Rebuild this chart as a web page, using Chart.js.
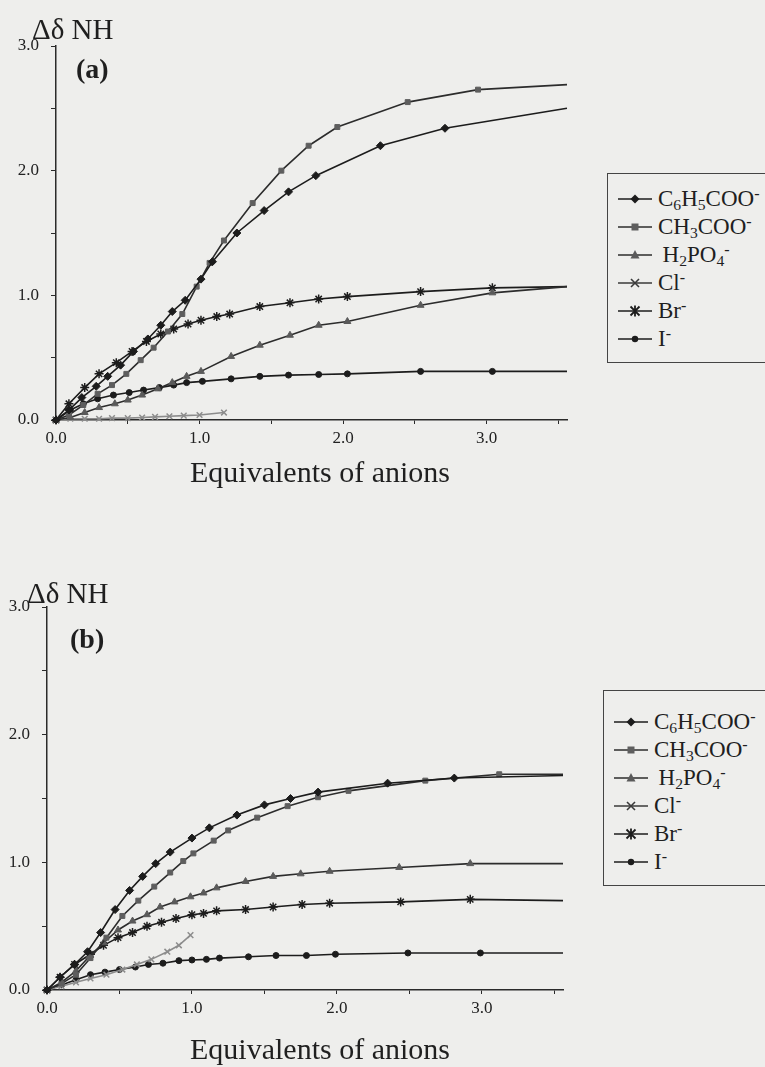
<!DOCTYPE html>
<html>
<head>
<meta charset="utf-8">
<script src="https://cdn.jsdelivr.net/npm/chart.js@4.4.1/dist/chart.umd.min.js"></script>
<style>
  body { margin: 0; background: #eeeeec; }
  #page {
    position: relative; width: 765px; height: 1067px; overflow: hidden;
    font-family: "Liberation Serif", "Times New Roman", serif; color: #1f1f1f;
  }
  #page canvas { position: absolute; left: 0; }
  .ytitle { position: absolute; font-size: 29px; line-height: 1; white-space: nowrap; }
  .panel { position: absolute; font-size: 28px; font-weight: bold; line-height: 1; }
  .xtitle { position: absolute; font-size: 30px; line-height: 1; white-space: nowrap; }
  .legend {
    position: absolute; width: 200px; border: 1.5px solid #444;
    box-sizing: border-box;
  }
  .legend .row { height: 28px; display: flex; align-items: center; font-size: 23px; white-space: nowrap; }
  .legend svg { margin-left: 10px; margin-right: 6px; flex: none; }
  .legend sub { font-size: 0.68em; vertical-align: -0.28em; line-height: 0; }
  .legend sup { font-size: 0.7em; vertical-align: 0.45em; line-height: 0; }
</style>
</head>
<body>
<div id="page">
  <canvas id="chartA" width="600" height="500" style="top:0"></canvas>
  <canvas id="chartB" width="600" height="500" style="top:560px"></canvas>

  <div class="ytitle" style="left:32px; top:15px">&Delta;&delta; NH</div>
  <div class="panel" style="left:76px; top:55px">(a)</div>
  <div class="xtitle" style="left:190px; top:457px">Equivalents of anions</div>
  <div class="legend" id="legendA" style="left:607px; top:173px; height:190px; padding-top:11px"></div>

  <div class="ytitle" style="left:27px; top:579px">&Delta;&delta; NH</div>
  <div class="panel" style="left:70px; top:625px">(b)</div>
  <div class="xtitle" style="left:190px; top:1034px">Equivalents of anions</div>
  <div class="legend" id="legendB" style="left:603px; top:690px; height:196px; padding-top:17px"></div>
</div>

<script>
// ---- panel (a) ----
const a_x_C6H5COO = [0, 0.09, 0.18, 0.28, 0.36, 0.45, 0.54, 0.64, 0.73, 0.81, 0.90, 1.01, 1.09, 1.26, 1.45, 1.62, 1.81, 2.26, 2.71, 3.56];
const a_y_C6H5COO = [0, 0.08, 0.18, 0.27, 0.35, 0.44, 0.55, 0.65, 0.76, 0.87, 0.96, 1.13, 1.27, 1.50, 1.68, 1.83, 1.96, 2.20, 2.34, 2.50];

const a_x_CH3COO = [0, 0.09, 0.19, 0.29, 0.39, 0.49, 0.59, 0.68, 0.78, 0.88, 0.98, 1.07, 1.17, 1.37, 1.57, 1.76, 1.96, 2.45, 2.94, 3.56];
const a_y_CH3COO = [0, 0.04, 0.12, 0.21, 0.28, 0.37, 0.48, 0.58, 0.71, 0.85, 1.07, 1.26, 1.44, 1.74, 2.00, 2.20, 2.35, 2.55, 2.65, 2.69];

const a_x_H2PO4 = [0, 0.10, 0.20, 0.30, 0.41, 0.50, 0.60, 0.71, 0.81, 0.91, 1.01, 1.22, 1.42, 1.63, 1.83, 2.03, 2.54, 3.04, 3.56];
const a_y_H2PO4 = [0, 0.02, 0.06, 0.10, 0.13, 0.16, 0.20, 0.25, 0.30, 0.35, 0.39, 0.51, 0.60, 0.68, 0.76, 0.79, 0.92, 1.02, 1.07];

const a_x_Cl = [0, 0.10, 0.20, 0.30, 0.39, 0.50, 0.60, 0.69, 0.79, 0.89, 1.00, 1.17];
const a_y_Cl = [0, 0.01, 0.01, 0.01, 0.015, 0.015, 0.02, 0.025, 0.03, 0.035, 0.04, 0.06];

const a_x_Br = [0, 0.09, 0.20, 0.30, 0.42, 0.53, 0.63, 0.73, 0.82, 0.92, 1.01, 1.12, 1.21, 1.42, 1.63, 1.83, 2.03, 2.54, 3.04, 3.56];
const a_y_Br = [0, 0.13, 0.26, 0.37, 0.46, 0.55, 0.63, 0.69, 0.73, 0.77, 0.80, 0.83, 0.85, 0.91, 0.94, 0.97, 0.99, 1.03, 1.06, 1.07];

const a_x_I = [0, 0.10, 0.19, 0.29, 0.40, 0.51, 0.61, 0.72, 0.82, 0.91, 1.02, 1.22, 1.42, 1.62, 1.83, 2.03, 2.54, 3.04, 3.56];
const a_y_I = [0, 0.08, 0.13, 0.17, 0.20, 0.22, 0.24, 0.26, 0.28, 0.30, 0.31, 0.33, 0.35, 0.36, 0.365, 0.37, 0.39, 0.39, 0.39];

// ---- panel (b) ----
const b_x_C6H5COO = [0, 0.09, 0.19, 0.28, 0.37, 0.47, 0.57, 0.66, 0.75, 0.85, 1.00, 1.12, 1.31, 1.50, 1.68, 1.87, 2.35, 2.81, 3.56];
const b_y_C6H5COO = [0, 0.10, 0.20, 0.30, 0.45, 0.63, 0.78, 0.89, 0.99, 1.08, 1.19, 1.27, 1.37, 1.45, 1.50, 1.55, 1.62, 1.66, 1.68];

const b_x_CH3COO = [0, 0.10, 0.20, 0.30, 0.41, 0.52, 0.63, 0.74, 0.85, 0.94, 1.01, 1.15, 1.25, 1.45, 1.66, 1.87, 2.08, 2.61, 3.12, 3.56];
const b_y_CH3COO = [0, 0.05, 0.12, 0.25, 0.41, 0.58, 0.70, 0.81, 0.92, 1.01, 1.07, 1.17, 1.25, 1.35, 1.44, 1.51, 1.56, 1.64, 1.69, 1.69];

const b_x_H2PO4 = [0, 0.10, 0.20, 0.29, 0.39, 0.49, 0.59, 0.69, 0.78, 0.88, 0.99, 1.08, 1.17, 1.37, 1.56, 1.75, 1.95, 2.43, 2.92, 3.56];
const b_y_H2PO4 = [0, 0.06, 0.15, 0.26, 0.37, 0.47, 0.54, 0.59, 0.65, 0.69, 0.73, 0.76, 0.80, 0.85, 0.89, 0.91, 0.93, 0.96, 0.99, 0.99];

const b_x_Cl = [0, 0.10, 0.20, 0.30, 0.41, 0.52, 0.62, 0.72, 0.83, 0.91, 0.99];
const b_y_Cl = [0, 0.03, 0.06, 0.09, 0.12, 0.16, 0.20, 0.24, 0.30, 0.35, 0.43];

const b_x_Br = [0, 0.09, 0.19, 0.30, 0.39, 0.49, 0.59, 0.69, 0.79, 0.89, 1.00, 1.08, 1.17, 1.37, 1.56, 1.76, 1.95, 2.44, 2.92, 3.56];
const b_y_Br = [0, 0.10, 0.20, 0.28, 0.35, 0.41, 0.45, 0.50, 0.53, 0.56, 0.59, 0.60, 0.62, 0.63, 0.65, 0.67, 0.68, 0.69, 0.71, 0.70];

const b_x_I = [0, 0.10, 0.20, 0.30, 0.40, 0.50, 0.61, 0.70, 0.80, 0.91, 1.00, 1.10, 1.19, 1.39, 1.58, 1.79, 1.99, 2.49, 2.99, 3.56];
const b_y_I = [0, 0.04, 0.08, 0.12, 0.14, 0.16, 0.18, 0.20, 0.21, 0.23, 0.235, 0.24, 0.25, 0.26, 0.27, 0.27, 0.28, 0.29, 0.29, 0.29];

// axis ranges and labelled ticks
const xMax = 3.56;
const yMax = 3.0;
const tickStep = 0.5;

// how each anion is drawn
const anions = [
  { key: 'C6H5COO', html: 'C<sub>6</sub>H<sub>5</sub>COO<sup>-</sup>', marker: 'rectRot', r: 4,   line: '#1c1c1c', fill: '#1c1c1c' },
  { key: 'CH3COO',  html: 'CH<sub>3</sub>COO<sup>-</sup>',            marker: 'rect',    r: 3.5, line: '#2c2c2c', fill: '#5e5e5e' },
  { key: 'H2PO4',   html: '&thinsp;H<sub>2</sub>PO<sub>4</sub><sup>-</sup>', marker: 'triangle', r: 4, line: '#2c2c2c', fill: '#5a5a5a' },
  { key: 'Cl',      html: 'Cl<sup>-</sup>',                          marker: 'crossRot', r: 4,   line: '#8c8c8c', fill: '#8c8c8c', legendColor: '#3a3a3a' },
  { key: 'Br',      html: 'Br<sup>-</sup>',                          marker: 'star',    r: 4.5, line: '#1c1c1c', fill: '#1c1c1c' },
  { key: 'I',       html: 'I<sup>-</sup>',                           marker: 'circle',  r: 3,   line: '#1c1c1c', fill: '#1c1c1c' }
];

const panelData = {
  a: { C6H5COO: [a_x_C6H5COO, a_y_C6H5COO], CH3COO: [a_x_CH3COO, a_y_CH3COO], H2PO4: [a_x_H2PO4, a_y_H2PO4],
       Cl: [a_x_Cl, a_y_Cl], Br: [a_x_Br, a_y_Br], I: [a_x_I, a_y_I] },
  b: { C6H5COO: [b_x_C6H5COO, b_y_C6H5COO], CH3COO: [b_x_CH3COO, b_y_CH3COO], H2PO4: [b_x_H2PO4, b_y_H2PO4],
       Cl: [b_x_Cl, b_y_Cl], Br: [b_x_Br, b_y_Br], I: [b_x_I, b_y_I] }
};

const axisColor = '#2a2a2a';
const tickFont = { family: 'Liberation Serif', size: 17 };

function oneDecimal(v) {
  return Number.isInteger(v) ? v.toFixed(1) : '';
}

// area = plot rectangle inside the canvas (left, right, top, bottom in px)
function buildPanel(canvasId, data, area) {
  const canvas = document.getElementById(canvasId);
  const W = canvas.width, H = canvas.height;

  const datasets = anions.map(an => {
    const [xs, ys] = data[an.key];
    return {
      label: an.key,
      data: xs.map((x, i) => ({ x: x, y: ys[i] })),
      showLine: true,
      borderColor: an.line,
      borderWidth: 1.6,
      tension: 0,
      pointStyle: an.marker,
      pointRadius: ctx => (ctx.raw && ctx.raw.x >= 3.5 ? 0 : an.r),
      pointBackgroundColor: an.fill,
      pointBorderColor: an.marker === 'crossRot' || an.marker === 'star' ? an.line : an.fill,
      pointBorderWidth: an.marker === 'crossRot' || an.marker === 'star' ? 1.5 : 1,
      clip: false
    };
  });

  return new Chart(canvas.getContext('2d'), {
    type: 'scatter',
    data: { datasets: datasets },
    options: {
      responsive: false,
      animation: false,
      events: [],
      layout: { padding: { top: area.top, right: W - area.right, bottom: 0, left: 0 } },
      plugins: { legend: { display: false }, tooltip: { enabled: false } },
      scales: {
        x: {
          type: 'linear', min: 0, max: xMax,
          ticks: { stepSize: tickStep, includeBounds: false, callback: oneDecimal,
                   font: tickFont, color: '#222', padding: 4, maxRotation: 0, autoSkip: false },
          grid: { drawOnChartArea: false, drawTicks: true, tickLength: 4, color: axisColor },
          border: { color: axisColor, width: 1.5 },
          afterFit: s => { s.height = H - area.bottom; }
        },
        y: {
          type: 'linear', min: 0, max: yMax,
          ticks: { stepSize: tickStep, includeBounds: false, callback: oneDecimal,
                   font: tickFont, color: '#222', padding: 12 },
          grid: { drawOnChartArea: false, drawTicks: true, tickLength: 5, color: axisColor },
          border: { color: axisColor, width: 1.5 },
          afterFit: s => { s.width = area.left; }
        }
      }
    }
  });
}

// small line+marker sample for the legend
function legendIcon(an) {
  const c = an.legendColor || an.line;
  const f = an.legendColor || an.fill;
  let m = '';
  if (an.marker === 'rectRot') m = `<polygon points="17,3.5 21.5,8 17,12.5 12.5,8" fill="${f}"/>`;
  else if (an.marker === 'rect') m = `<rect x="13.5" y="4.5" width="7" height="7" fill="${f}"/>`;
  else if (an.marker === 'triangle') m = `<polygon points="17,3 21.5,11.5 12.5,11.5" fill="${f}"/>`;
  else if (an.marker === 'crossRot') m = `<path d="M13,4 L21,12 M21,4 L13,12" stroke="${c}" stroke-width="1.6"/>`;
  else if (an.marker === 'star') m = `<path d="M12.5,3.5 L21.5,12.5 M21.5,3.5 L12.5,12.5 M17,2.5 L17,13.5" stroke="${c}" stroke-width="1.8"/>`;
  else m = `<circle cx="17" cy="8" r="3.2" fill="${f}"/>`;
  return `<svg width="34" height="16" viewBox="0 0 34 16"><line x1="0" y1="8" x2="34" y2="8" stroke="${c}" stroke-width="1.6"/>${m}</svg>`;
}

function buildLegend(id) {
  document.getElementById(id).innerHTML = anions
    .map(an => `<div class="row">${legendIcon(an)}<span>${an.html}</span></div>`)
    .join('');
}

buildPanel('chartA', panelData.a, { left: 56, right: 567, top: 46, bottom: 420 });
buildPanel('chartB', panelData.b, { left: 47, right: 563, top: 47, bottom: 430 });
buildLegend('legendA');
buildLegend('legendB');
</script>
</body>
</html>
